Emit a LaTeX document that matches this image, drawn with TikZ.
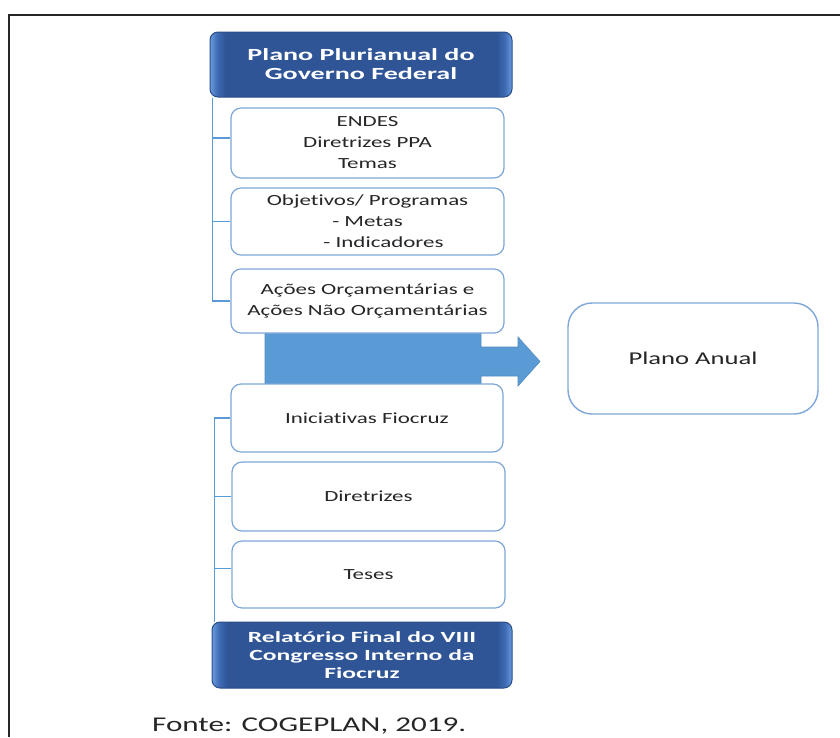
\documentclass[tikz,border=0pt]{standalone}
\usepackage{fontspec}
\setmainfont{Carlito}[FakeStretch=1.48, Ligatures=NoCommon]
\newfontfamily\bwide{Carlito}[FakeStretch=1.65, Ligatures=NoCommon]
\definecolor{dkmain}{HTML}{2F5597}
\definecolor{dkmid}{HTML}{3F6BB5}
\definecolor{dkedge}{HTML}{6A9BDD}
\definecolor{dkbd}{HTML}{2A4D88}
\definecolor{boxbd}{HTML}{7EA6D8}
\definecolor{conn}{HTML}{5B9BD5}
\definecolor{arrowfill}{HTML}{5B9BD5}
\definecolor{txt}{HTML}{262626}
\pgfdeclarehorizontalshading{darkshade}{100bp}{color(0bp)=(dkedge); color(25bp)=(dkedge); color(26.2bp)=(dkmid); color(27.5bp)=(dkmain); color(72.5bp)=(dkmain); color(73.8bp)=(dkmid); color(75bp)=(dkedge); color(100bp)=(dkedge)}
\tikzset{
  whitebox/.style={draw=boxbd, line width=1.2pt, fill=white, rounded corners=10pt,
    text=txt, align=center, inner sep=0pt, font=\fontsize{15.5}{21}\selectfont},
  darkbox/.style={draw=dkbd, line width=1pt, shading=darkshade, rounded corners=8pt,
    text=white, align=center, inner sep=0pt},
  connline/.style={draw=conn, line width=1.4pt},
}
\begin{document}
\begin{tikzpicture}[x=1pt,y=-1pt]
\useasboundingbox (0,0) rectangle (840,737);
% frame
\draw[line width=2pt, black!85] (9,737) -- (9,15) -- (840,15);
% big arrow behind boxes
\fill[arrowfill, draw=arrowfill!90!black, line width=0.6pt]
  (265,325) -- (481,325) -- (481,347) -- (518,347) -- (518,337) -- (540,361.5)
  -- (518,386) -- (518,376) -- (481,376) -- (481,395) -- (265,395) -- cycle;
% top dark box
\node[darkbox, minimum width=302pt, minimum height=65pt,
  font=\bwide\bfseries\fontsize{17}{19}\selectfont] (top) at (361,64.5)
  {Plano Plurianual do\\Governo Federal};
% white boxes
\node[whitebox, minimum width=273pt, minimum height=70pt] (b1) at (367.5,143)
  {ENDES\\Diretrizes PPA\\Temas};
\node[whitebox, minimum width=273pt, minimum height=67pt] (b2) at (367.5,221.5)
  {Objetivos/ Programas\\- Metas\\\hspace*{32pt}- Indicadores};
\node[whitebox, minimum width=273pt, minimum height=64pt] (b3) at (367.5,301)
  {Ações Orçamentárias e\\Ações Não Orçamentárias};
\node[whitebox, minimum width=272pt, minimum height=68pt] (b4) at (367,418)
  {Iniciativas Fiocruz};
\node[whitebox, minimum width=273pt, minimum height=69pt] (b5) at (368.5,496.5)
  {Diretrizes};
\node[whitebox, minimum width=273pt, minimum height=67pt] (b6) at (368.5,574.5)
  {Teses};
% bottom dark box
\node[darkbox, minimum width=300pt, minimum height=66pt,
  font=\bwide\bfseries\fontsize{15.5}{18}\selectfont] (bot) at (362,655)
  {Relatório Final do VIII\\Congresso Interno da\\Fiocruz};
% Plano Anual
\node[draw=boxbd, line width=1.4pt, fill=white, rounded corners=24pt,
  minimum width=250pt, minimum height=111pt, text=txt,
  font=\fontsize{18}{22}\selectfont] (pa) at (693,358.5) {Plano Anual};
% connectors top
\coordinate (vt) at ([xshift=3pt]top.south west);
\draw[connline] (vt) |- (b3.west);
\draw[connline] ([yshift=5pt]b1.west) -- ([yshift=5pt]b1.west -| vt);
\draw[connline] (b2.west) -- (b2.west -| vt);
% connectors bottom
\coordinate (vb) at ([xshift=3pt]bot.north west);
\draw[connline] (b4.west) -| (vb);
\draw[connline] (b5.west) -- (b5.west -| vb);
\draw[connline] ([yshift=6pt]b6.west) -- ([yshift=6pt]b6.west -| vb);
% source
\node[anchor=base west, inner sep=0pt, text=black!85,
  font=\fontsize{21}{25}\selectfont] (src) at (152,731) {Fonte: COGEPLAN, 2019.};
\end{tikzpicture}
\end{document}
